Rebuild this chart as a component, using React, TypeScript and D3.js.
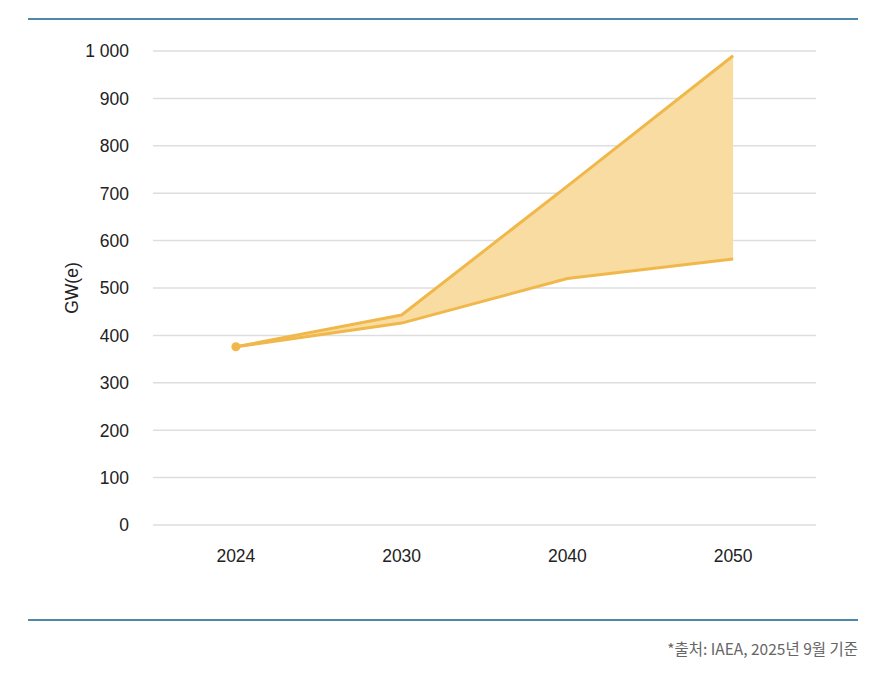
import React from "react";
import * as d3 from "d3";

const years = ["2024", "2030", "2040", "2050"];
const highCase = [376, 443, 715, 990];
const lowCase = [376, 426, 520, 561];
const yTicks = [0, 100, 200, 300, 400, 500, 600, 700, 800, 900, 1000];
const yLabel = "GW(e)";
const sourceNote = "*출처: IAEA, 2025년 9월 기준";

const W = 886;
const H = 681;
const FONT = "'Liberation Sans', Arial, sans-serif";
const LINE = "#f0b84a";
const FILL = "#f8dca2";

export default function App() {
  const x = d3.scaleBand<string>().domain(years).range([153, 816]);
  const y = d3.scaleLinear().domain([0, 1000]).range([525, 51]);
  const cx = (d: string) => (x(d) as number) + x.bandwidth() / 2;

  const rows = years.map((yr, i) => ({ yr, hi: highCase[i], lo: lowCase[i] }));
  const area = d3
    .area<(typeof rows)[number]>()
    .x((d) => cx(d.yr))
    .y0((d) => y(d.lo))
    .y1((d) => y(d.hi));
  const hiLine = d3
    .line<(typeof rows)[number]>()
    .x((d) => cx(d.yr))
    .y((d) => y(d.hi));
  const loLine = d3
    .line<(typeof rows)[number]>()
    .x((d) => cx(d.yr))
    .y((d) => y(d.lo));

  const fmt = (v: number) =>
    v >= 1000 ? `${Math.floor(v / 1000)} ${String(v % 1000).padStart(3, "0")}` : String(v);

  return (
    <svg
      width={W}
      height={H}
      style={{ position: "absolute", left: 0, top: 0, background: "#fff" }}
      fontFamily={FONT}
    >
      <line x1={28} x2={858} y1={19} y2={19} stroke="#4f86aa" strokeWidth={2} />
      {yTicks.map((t) => (
        <g key={t}>
          <line x1={153} x2={816} y1={y(t)} y2={y(t)} stroke="#dedede" strokeWidth={1.5} />
          <text x={129} y={y(t)} dy="0.36em" textAnchor="end" fontSize={17.5} fill="#222">
            {fmt(t)}
          </text>
        </g>
      ))}
      {years.map((yr) => (
        <text key={yr} x={cx(yr)} y={562} textAnchor="middle" fontSize={17.5} fill="#222">
          {yr}
        </text>
      ))}
      <text
        transform={`translate(78,288) rotate(-90)`}
        textAnchor="middle"
        fontSize={17.5}
        fill="#222"
      >
        {yLabel}
      </text>
      <path d={area(rows) || ""} fill={FILL} stroke="none" />
      <path d={hiLine(rows) || ""} fill="none" stroke={LINE} strokeWidth={3} strokeLinejoin="round" />
      <path d={loLine(rows) || ""} fill="none" stroke={LINE} strokeWidth={3} strokeLinejoin="round" />
      <circle cx={cx(years[0])} cy={y(highCase[0])} r={4.5} fill={LINE} />
      <line x1={28} x2={858} y1={620} y2={620} stroke="#4f86aa" strokeWidth={2} />
      <text x={858} y={655} textAnchor="end" fontSize={15.5} fill="#666" fontFamily="'Noto Sans CJK KR', 'Noto Sans', sans-serif">
        {sourceNote}
      </text>
    </svg>
  );
}
